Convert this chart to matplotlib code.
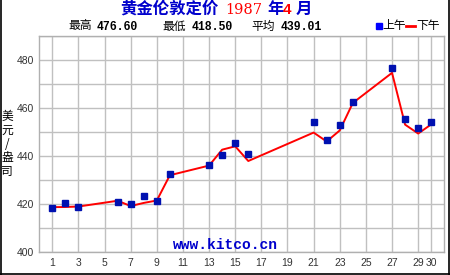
import numpy as np
import matplotlib
matplotlib.use("Agg")
import matplotlib.pyplot as plt
from matplotlib.lines import Line2D

# gold london fix, april 1987
days = [1, 2, 3, 6, 7, 8, 9, 10, 13, 14, 15, 16, 21, 22, 23, 24, 27, 28, 29, 30]
am = [418.50, 420.30, 418.60, 420.70, 420.00, 423.20, 421.50, 432.30, 436.40, 440.20,
      445.50, 441.00, 454.20, 446.80, 453.00, 462.40, 476.60, 455.50, 451.80, 454.20]
pm = [418.75, 418.80, 419.00, 421.40, 419.20, 420.50, 421.50, 432.00, 436.00, 442.60,
      444.00, 437.90, 449.70, 446.00, 450.60, 462.00, 474.50, 453.00, 449.30, 453.10]

xticks = list(range(1, 30, 2)) + [30]
yticks = [400, 420, 440, 460, 480]

W, H = 450, 275
cjk = ["Noto Sans CJK SC", "DejaVu Sans"]
blue = "#0000CC"
red = "#FF0000"


def fx(x):
    return x / W


def fy(y):
    return 1 - y / H


fig = plt.figure(figsize=(W / 100, H / 100), dpi=100, facecolor="white")
ax = fig.add_axes([fx(39.2), fy(252.3), (444.3 - 39.2) / W, (252.3 - 35.5) / H])

ax.set_xlim(0, 31)
ax.set_ylim(400, 490)
ax.set_xticks(xticks)
ax.set_yticks(yticks)
ax.set_yticks(np.arange(400, 491, 10), minor=True)
ax.grid(True, which="both", color="#C0C0C0", linewidth=1.0)
ax.set_axisbelow(True)
ax.tick_params(which="both", length=0)
ax.tick_params(axis="y", pad=3.5, labelsize=7.5, labelcolor="#333333")
ax.tick_params(axis="x", pad=4, labelsize=7.5, labelcolor="#333333")
for lab in ax.get_xticklabels() + ax.get_yticklabels():
    lab.set_family("Liberation Sans")
for sp in ax.spines.values():
    sp.set_color("#B0B0B0")
    sp.set_linewidth(1.0)

ax.plot(days, pm, color=red, linewidth=1.4, zorder=3)
ax.plot(days, am, linestyle="none", marker="s", markersize=4.3,
        color="#0010B0", zorder=4)

fig.text(fx(225), fy(245), "www.kitco.cn", ha="center", va="center",
         color=blue, fontsize=10.5, fontweight="bold", family="Liberation Mono")

# title pieces
fig.text(fx(120), fy(9), "黄金伦敦定价", color=blue, fontsize=11.8, fontweight="bold",
         family=cjk, ha="left", va="center")
fig.text(fx(225), fy(9.5), "1987", color=red, fontsize=10.5, family="DejaVu Serif",
         ha="left", va="center")
fig.text(fx(267), fy(9), "年", color=blue, fontsize=11.8, fontweight="bold",
         family=cjk, ha="left", va="center")
fig.text(fx(283), fy(9.5), "4", color=red, fontsize=11, fontweight="bold",
         family="Liberation Sans", ha="left", va="center")
fig.text(fx(296), fy(9), "月", color=blue, fontsize=11.8, fontweight="bold",
         family=cjk, ha="left", va="center")

# stats line
stats = [("最高", 68, "476.60", 97), ("最低", 162, "418.50", 192), ("平均", 251, "439.01", 281)]
for lbl, x1, val, x2 in stats:
    fig.text(fx(x1), fy(26), lbl, fontsize=8.5, family=cjk, ha="left", va="center")
    fig.text(fx(x2), fy(26.5), val, fontsize=8.3, fontweight="bold",
             family="Liberation Mono", ha="left", va="center")

# legend
fig.add_artist(Line2D([fx(378.5)], [fy(26)], marker="s", markersize=4, color="#0000FF",
                      linestyle="none"))
fig.text(fx(382), fy(26), "上午", fontsize=8.5, family=cjk, ha="left", va="center")
fig.add_artist(Line2D([fx(406), fx(415)], [fy(25.5), fy(25.5)], color=red, linewidth=2))
fig.text(fx(416), fy(26), "下午", fontsize=8.5, family=cjk, ha="left", va="center")

# y label
fig.text(fx(7), fy(144), "美\n元\n/\n盎\n司", fontsize=8.5, family=cjk, ha="center",
         va="center", linespacing=1.05)

# outer frame
for xs, ys in [([0.5, 0.5], [0, H]), ([W - 1.5, W - 1.5], [0, H]), ([0, W], [H - 1, H - 1])]:
    fig.add_artist(Line2D([fx(x) for x in xs], [fy(y) for y in ys], color="black",
                          linewidth=1.2))

plt.savefig("out.png", dpi=100, facecolor="white")
